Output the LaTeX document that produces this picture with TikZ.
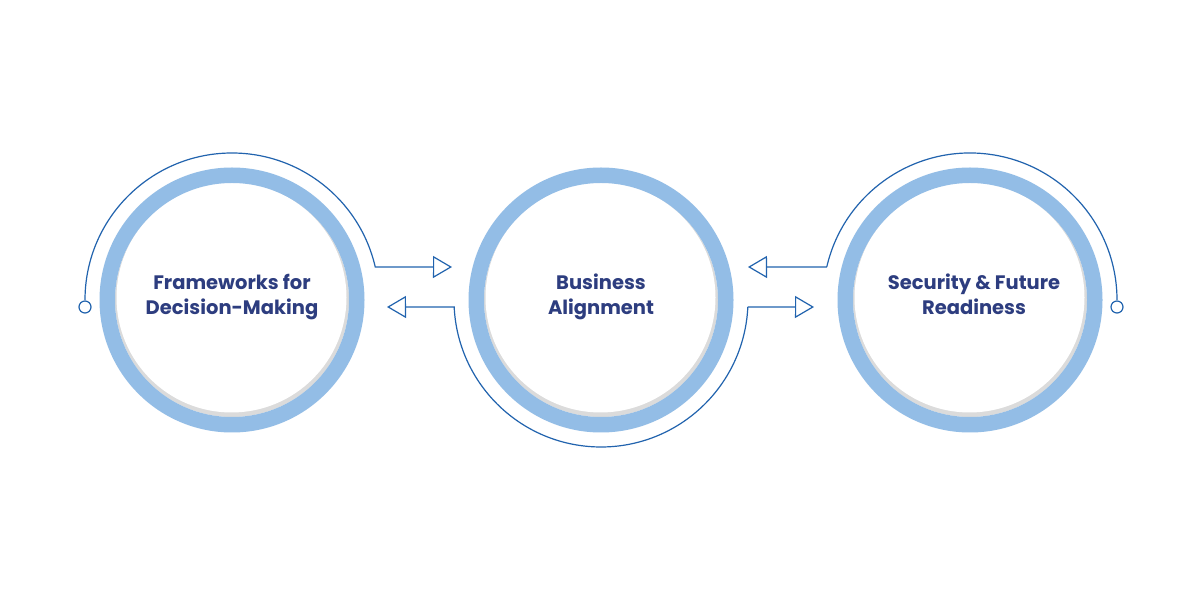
\documentclass[tikz,border=0pt]{standalone}
\usepackage{fontspec}
\setmainfont{Poppins}
\usetikzlibrary{calc}
\usetikzlibrary{arrows.meta}

\definecolor{ringblue}{HTML}{93BDE6}
\definecolor{lineblue}{HTML}{2163AE}
\definecolor{textnavy}{HTML}{2D3D7F}

\begin{document}
\begin{tikzpicture}[x=1pt,y=1pt]
            % Sizes of the rings and the thin arcs
            \def\R{124.75} % middle of blue ring
            \def\w{15.5}   % width of blue ring
            \def\r{147}    % radius of thin arc
            \def\d{117}    % white disc

            \useasboundingbox[fill=white] (0,0) rectangle (1200,600);

            % Centres of the three stages
            \coordinate (C1) at (232, 300);
            \coordinate (C2) at (601, 300);
            \coordinate (C3) at (970, 300);

            % Draw the rings with white disc and soft shadow
            \foreach \c in {C1,C2,C3} {
                \fill[gray!28] (\c) circle (\d);
                \fill[white] ($(\c)+(-0.5,2.5)$) circle (\d-2);
                \draw[ringblue, line width=\w] (\c) circle (\R);
            }

            % Labels in centre of rings
            \node[font=\fontsize{19.5}{25}\selectfont\bfseries, text=textnavy, align=center] (T1) at ($(C1)+(0,3)$) {Frameworks for\\Decision-Making};
            \node[font=\fontsize{19.5}{25}\selectfont\bfseries, text=textnavy, align=center] (T2) at ($(C2)+(0,3)$) {Business\\Alignment};
            \node[font=\fontsize{19.5}{25}\selectfont\bfseries, text=textnavy, align=center] (T3) at ($(C3)+(4,6)$) {Security \& Future\\Readiness};

            % Ends of the thin arcs
            \coordinate (A1) at ($(C1)+(180:\r)$);
            \coordinate (B1) at ($(C1)+(13:\r)$);
            \coordinate (A2) at ($(C2)+(182.7:\r)$);
            \coordinate (B2) at ($(C2)+(357.3:\r)$);
            \coordinate (A3) at ($(C3)+(167:\r)$);

            % Arrow tips
            \coordinate (P1) at (452, 333);
            \coordinate (P2) at (387, 293);
            \coordinate (P3) at (748, 333);
            \coordinate (P4) at (814, 293);

            % Draw thin arcs and arrows
            \draw[lineblue, line width=1.2, -{Triangle[open,length=19,width=22]}]
                (A1) arc[start angle=180, end angle=13, radius=\r] -- (P1);
            \draw[lineblue, line width=1.2, -{Triangle[open,length=19,width=22]}]
                (B2) arc[start angle=357.3, end angle=182.7, radius=\r] -- (P2);
            \draw[lineblue, line width=1.2, -{Triangle[open,length=19,width=22]}]
                (B2) -- (P4);
            \draw[lineblue, line width=1.2]
                (A3) arc[start angle=167, end angle=0, radius=\r];
            \draw[lineblue, line width=1.2, -{Triangle[open,length=19,width=22]}]
                (A3) -- (P3);

            % Draw end points
            \draw[lineblue, line width=1.2, fill=white] ($(A1)+(0,-7)$) circle (6);
            \draw[lineblue, line width=1.2, fill=white] ($(C3)+(\r,-7)$) circle (6);
        \end{tikzpicture}
\end{document}
